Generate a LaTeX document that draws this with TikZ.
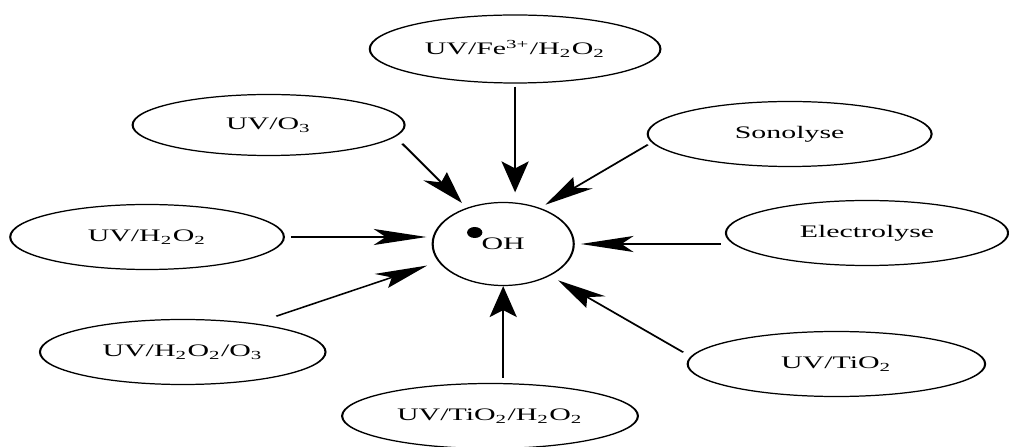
\documentclass[tikz,border=0pt]{standalone}
\usepackage{fontspec}
\setmainfont{Liberation Serif}
\usetikzlibrary{shapes.geometric,arrows.meta}
\tikzset{
  method/.style={draw, ellipse, line width=0.7pt, minimum height=1.3cm, inner sep=1pt},
  radical/.style={draw, circle, line width=0.7pt, minimum size=1.66cm, inner sep=0pt},
  feed/.style={-{Stealth[length=0.62cm,width=0.32cm,inset=0.14cm]}, line width=0.8pt}
}
\begin{document}
\begin{tikzpicture}
\useasboundingbox (0,0) rectangle (20.18,8.92);
%--- whole scheme, stretched sideways ---
\begin{scope}[transform canvas={xscale=1.7}]
  % Radical in the middle
  \node[radical] (oh) at (5.92,4.04) {OH};
  \fill ([shift={(-0.335,0.23)}]oh.center) ellipse (0.09 and 0.11);
  % Processes around it
  \node[method, minimum width=3.42cm, minimum height=1.36cm] (fe) at (6.06,7.94) {UV/Fe\textsuperscript{3+}/H\textsubscript{2}O\textsubscript{2}};
  \node[method, minimum width=3.2cm, minimum height=1.22cm] (o3) at (3.16,6.42) {UV/O\textsubscript{3}};
  \node[method, minimum width=3.34cm] (sono) at (9.29,6.24) {Sonolyse};
  \node[method, minimum width=3.22cm] (h2o2) at (1.73,4.18) {UV/H\textsubscript{2}O\textsubscript{2}};
  \node[method, minimum width=3.32cm] (elec) at (10.20,4.26) {Electrolyse};
  \node[method, minimum width=3.36cm] (h2o2o3) at (2.15,1.88) {UV/H\textsubscript{2}O\textsubscript{2}/O\textsubscript{3}};
  \node[method, minimum width=3.5cm] (tio2) at (9.84,1.64) {UV/TiO\textsubscript{2}};
  \node[method, minimum width=3.48cm] (tio2h2o2) at (5.765,0.60) {UV/TiO\textsubscript{2}/H\textsubscript{2}O\textsubscript{2}};
  % Arrows towards the radical
  \draw[feed, shorten <=0.06cm, shorten >=0.19cm] (fe.south) -- (fe.south |- oh.north);
  \draw[feed, shorten <=0.16cm, shorten >=0.11cm] (o3.-9) -- (oh);
  \draw[feed, shorten <=0.06cm, shorten >=0.09cm] (sono.186) -- (oh.59);
  \draw[feed, shorten <=0.07cm, shorten >=0.06cm] (h2o2.east) -- (h2o2.east -| oh.west);
  \draw[feed, shorten <=0.05cm, shorten >=0.07cm] (elec.west |- oh.east) -- (oh.east);
  \draw[feed, shorten <=0.29cm, shorten >=0.15cm] (h2o2o3.34) -- (oh.205);
  \draw[feed, shorten <=0.12cm, shorten >=0.13cm] (tio2.175) -- (oh.-49);
  \draw[feed, shorten <=0.1cm] (oh.south |- tio2h2o2.north) -- (oh.south);
\end{scope}
\end{tikzpicture}
\end{document}
